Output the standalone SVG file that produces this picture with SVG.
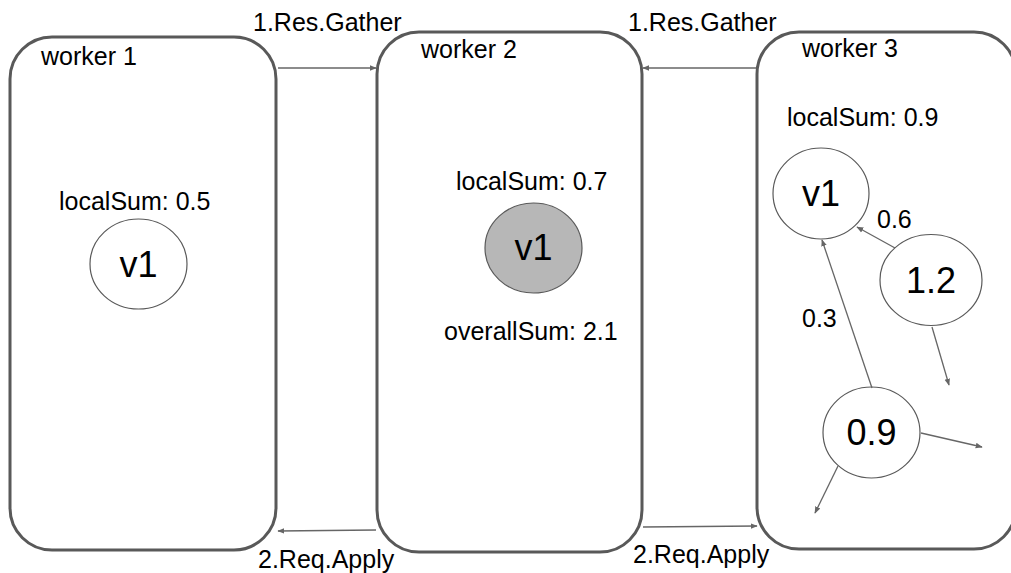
<svg xmlns="http://www.w3.org/2000/svg" width="1011" height="573" viewBox="0 0 1011 573">
  <style>
    text { font-family: "Liberation Sans", Arial, sans-serif; fill: #000; }
    .lbl { font-size: 25px; }
    .big { font-size: 36px; }
    .worker { fill: #fff; stroke: #595959; stroke-width: 3; }
    .vert { fill: #fff; stroke: #595959; stroke-width: 1.2; }
    .vert.active { fill: #b7b7b7; }
    .edge { fill: none; stroke: #666; stroke-width: 1.3; marker-end: url(#tip); }
  </style>
  <defs>
    <marker id="tip" viewBox="0 0 10 10" refX="9" refY="5" markerWidth="7" markerHeight="7" markerUnits="userSpaceOnUse" orient="auto">
      <path d="M0,1 L10,5 L0,9 z" fill="#666"/>
    </marker>
  </defs>

  <rect width="1011" height="573" fill="#fff"/>

  <!-- worker 1 -->
  <g id="worker1">
    <rect class="worker" x="10" y="37" width="266" height="513" rx="42" ry="42"/>
    <text class="lbl" x="41" y="65">worker 1</text>
    <text class="lbl" x="59" y="210">localSum: 0.5</text>
  </g>
  <g id="w1-v1">
    <ellipse class="vert" cx="138.5" cy="264" rx="48.5" ry="45"/>
    <text class="big" x="138.5" y="277" text-anchor="middle">v1</text>
  </g>

  <!-- worker 2 -->
  <g id="worker2">
    <rect class="worker" x="377" y="32" width="265" height="520" rx="42" ry="42"/>
    <text class="lbl" x="421" y="58">worker 2</text>
    <text class="lbl" x="456" y="190">localSum: 0.7</text>
    <text class="lbl" x="444" y="340">overallSum: 2.1</text>
  </g>
  <g id="w2-v1">
    <ellipse class="vert active" cx="533.5" cy="248" rx="48.5" ry="45"/>
    <text class="big" x="533.5" y="260" text-anchor="middle">v1</text>
  </g>

  <!-- worker 3 -->
  <g id="worker3">
    <rect class="worker" x="757" y="32" width="259" height="517" rx="42" ry="42"/>
    <text class="lbl" x="802" y="57">worker 3</text>
    <text class="lbl" x="787" y="126">localSum: 0.9</text>
  </g>
  <g id="w3-v1">
    <ellipse class="vert" cx="821" cy="193.5" rx="48" ry="45.5"/>
    <text class="big" x="821" y="206" text-anchor="middle">v1</text>
  </g>
  <g id="w3-n12">
    <ellipse class="vert" cx="931" cy="280" rx="51" ry="45.5"/>
    <text class="big" x="931" y="293" text-anchor="middle">1.2</text>
  </g>
  <g id="w3-n09">
    <ellipse class="vert" cx="871.5" cy="432.5" rx="48.5" ry="45.5"/>
    <text class="big" x="871.5" y="445" text-anchor="middle">0.9</text>
  </g>

  <!-- connectors -->
  <g id="connectors">
    <line class="edge" x1="278" y1="68" x2="376" y2="68"/>
    <line class="edge" x1="756" y1="68" x2="643" y2="68"/>
    <line class="edge" x1="376" y1="530" x2="278" y2="531"/>
    <line class="edge" x1="643" y1="527" x2="757" y2="526"/>
    <line class="edge" x1="895" y1="248" x2="857" y2="227"/>
    <line class="edge" x1="872" y1="388" x2="822" y2="240"/>
    <line class="edge" x1="932" y1="327" x2="949" y2="385"/>
    <line class="edge" x1="921" y1="433" x2="982" y2="447"/>
    <line class="edge" x1="838" y1="466" x2="815" y2="513"/>
  </g>

  <!-- connector labels -->
  <g id="edge-labels">
    <text class="lbl" x="253" y="31">1.Res.Gather</text>
    <text class="lbl" x="628" y="31">1.Res.Gather</text>
    <text class="lbl" x="258" y="568">2.Req.Apply</text>
    <text class="lbl" x="633" y="563">2.Req.Apply</text>
    <text class="lbl" x="877" y="228">0.6</text>
    <text class="lbl" x="802" y="327">0.3</text>
  </g>
</svg>
